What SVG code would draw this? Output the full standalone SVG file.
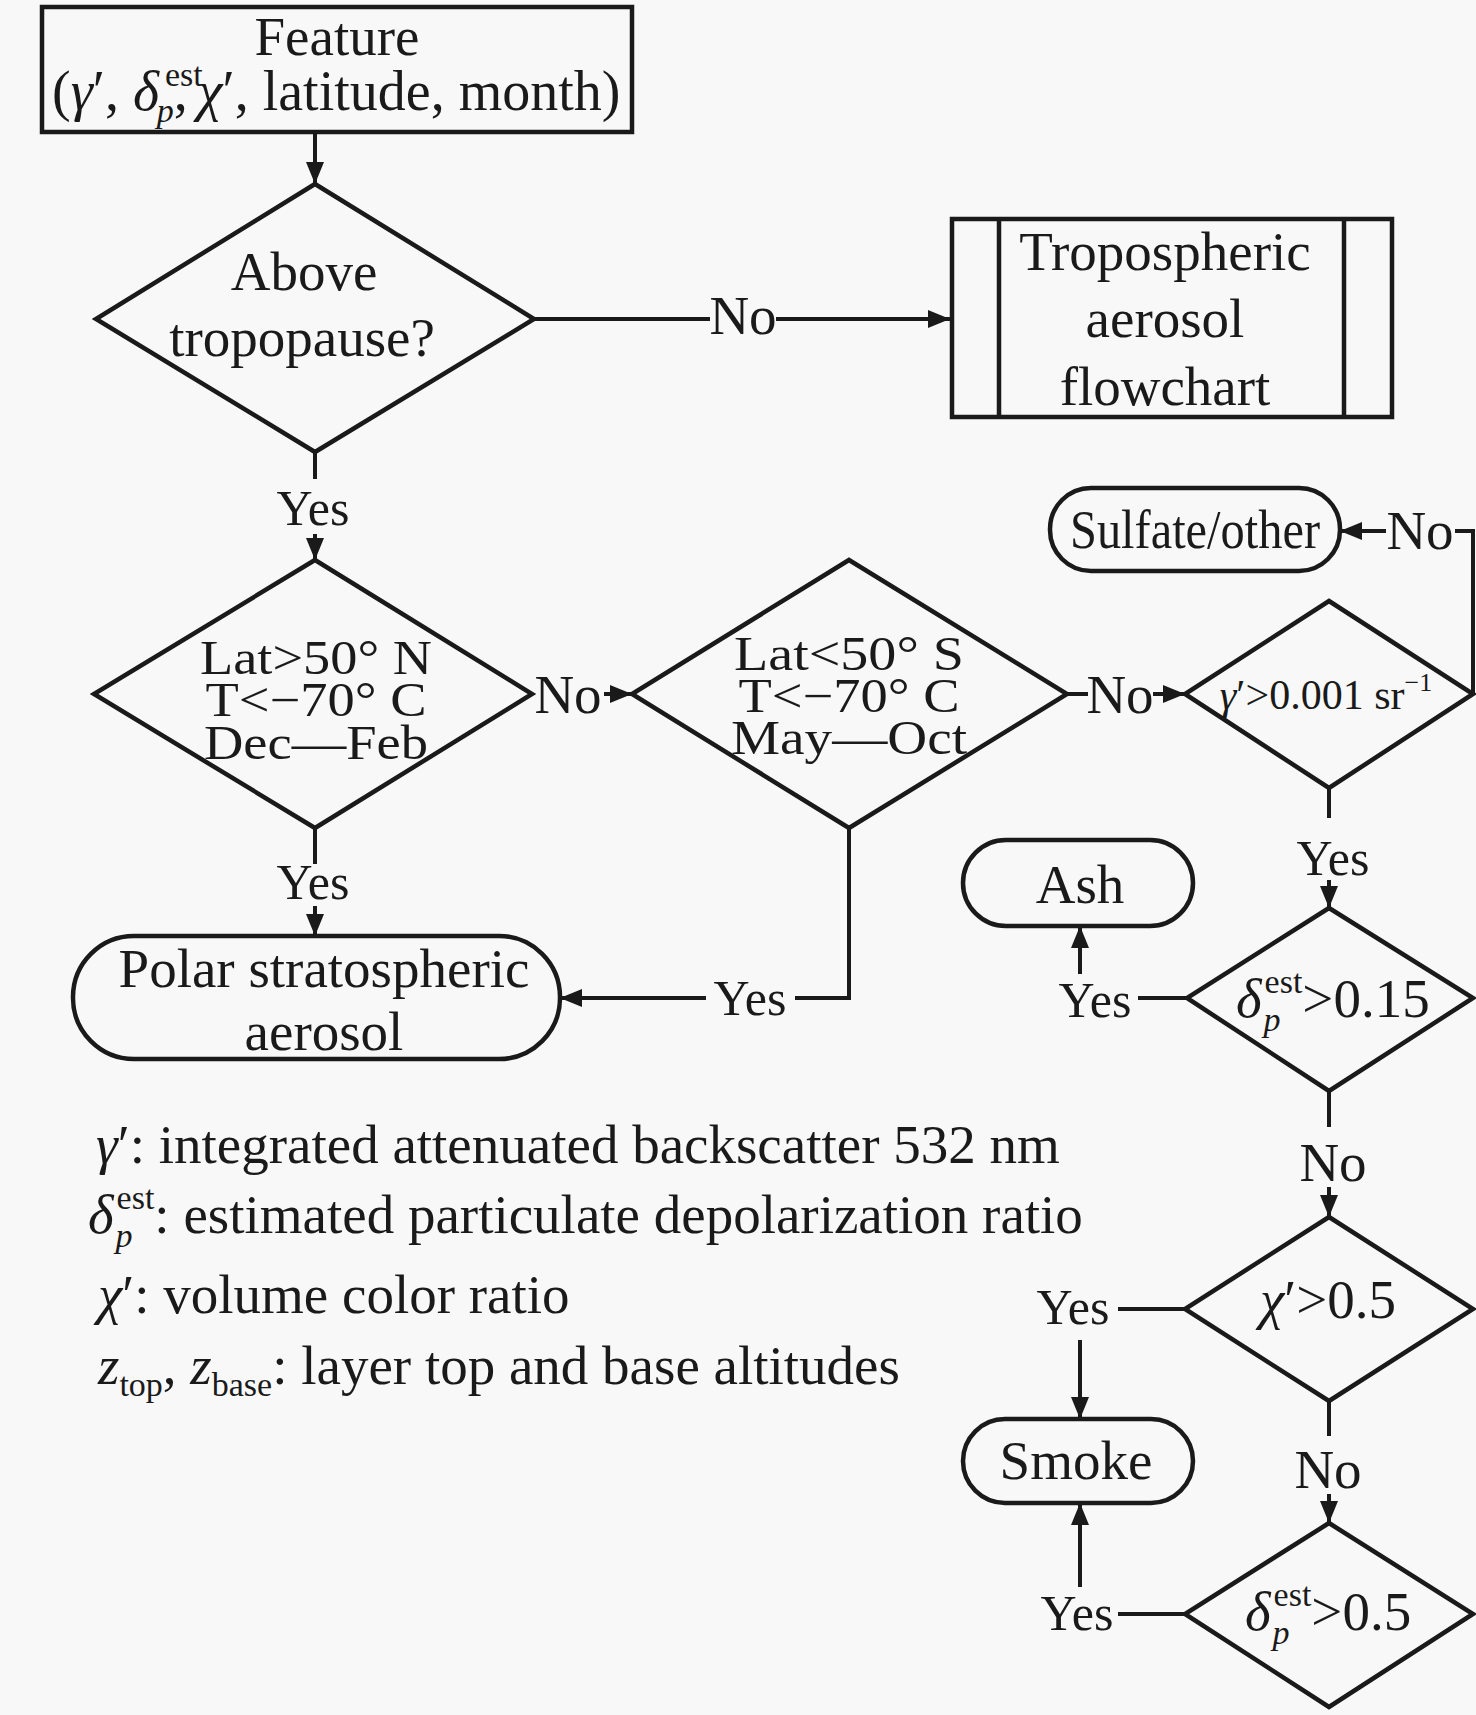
<svg xmlns="http://www.w3.org/2000/svg" width="1476" height="1715" viewBox="0 0 1476 1715">
<defs>
<style>
.t{font-family:"Liberation Serif","Times New Roman",serif;font-size:55px;fill:#1a1a1a}
.c{text-anchor:middle}
.i{font-style:italic}
.s{font-size:34px}
.y{font-size:50px}
.d{font-size:48px}
.sh{fill:none;stroke:#1a1a1a;stroke-width:4.5;stroke-linejoin:miter}
.ln{fill:none;stroke:#1a1a1a;stroke-width:4}
</style>
<marker id="ah" markerUnits="userSpaceOnUse" markerWidth="22" markerHeight="18" viewBox="0 0 22 18" refX="22" refY="9" orient="auto">
<path d="M0,0 L22,9 L0,18 z" fill="#1a1a1a"/>
</marker>
</defs>
<rect width="1476" height="1715" fill="#f8f8f8"/>

<g id="connectors">
<line class="ln" x1="315" y1="132" x2="315" y2="184" marker-end="url(#ah)"/>
<line class="ln" x1="534" y1="319" x2="710" y2="319"/>
<line class="ln" x1="776" y1="319" x2="950" y2="319" marker-end="url(#ah)"/>
<line class="ln" x1="315" y1="452" x2="315" y2="479"/>
<line class="ln" x1="315" y1="534" x2="315" y2="560" marker-end="url(#ah)"/>
<line class="ln" x1="604" y1="694" x2="632" y2="694" marker-end="url(#ah)"/>
<line class="ln" x1="1067" y1="694" x2="1088" y2="694"/>
<line class="ln" x1="1153" y1="694" x2="1185" y2="694" marker-end="url(#ah)"/>
<polyline class="ln" points="1473,694 1473,531 1455,531"/>
<line class="ln" x1="1386" y1="531" x2="1340" y2="531" marker-end="url(#ah)"/>
<line class="ln" x1="315" y1="828" x2="315" y2="864"/>
<line class="ln" x1="315" y1="906" x2="315" y2="936" marker-end="url(#ah)"/>
<polyline class="ln" points="849,828 849,998 795,998"/>
<line class="ln" x1="706" y1="998" x2="560" y2="998" marker-end="url(#ah)"/>
<line class="ln" x1="1329" y1="788" x2="1329" y2="818"/>
<line class="ln" x1="1329" y1="880" x2="1329" y2="908" marker-end="url(#ah)"/>
<line class="ln" x1="1187" y1="998" x2="1138" y2="998"/>
<line class="ln" x1="1080" y1="974" x2="1080" y2="926" marker-end="url(#ah)"/>
<line class="ln" x1="1329" y1="1091" x2="1329" y2="1127"/>
<line class="ln" x1="1329" y1="1187" x2="1329" y2="1217" marker-end="url(#ah)"/>
<line class="ln" x1="1185" y1="1309" x2="1118" y2="1309"/>
<line class="ln" x1="1080" y1="1340" x2="1080" y2="1419" marker-end="url(#ah)"/>
<line class="ln" x1="1329" y1="1401" x2="1329" y2="1436"/>
<line class="ln" x1="1329" y1="1494" x2="1329" y2="1523" marker-end="url(#ah)"/>
<line class="ln" x1="1185" y1="1614" x2="1118" y2="1614"/>
<line class="ln" x1="1080" y1="1587" x2="1080" y2="1503" marker-end="url(#ah)"/>
<text class="t c" x="743" y="334">No</text>
<text class="t c y" x="313" y="525">Yes</text>
<text class="t c" x="568" y="713">No</text>
<text class="t c" x="1120" y="713">No</text>
<text class="t c" x="1420" y="549">No</text>
<text class="t c y" x="313" y="899">Yes</text>
<text class="t c y" x="750" y="1015">Yes</text>
<text class="t c y" x="1333" y="875">Yes</text>
<text class="t c y" x="1095" y="1017">Yes</text>
<text class="t c" x="1333" y="1181">No</text>
<text class="t c y" x="1073" y="1324">Yes</text>
<text class="t c" x="1328" y="1488">No</text>
<text class="t c y" x="1077" y="1630">Yes</text>
</g>

<g id="feature">
<rect class="sh" x="42" y="7" width="590" height="125"/>
<text class="t c" x="337" y="55">Feature</text>
<text class="t" x="52" y="110" style="font-size:56px">(<tspan class="i">γ</tspan>′, <tspan class="i">δ</tspan><tspan class="s" dx="6" dy="-24">est</tspan><tspan class="s i" dx="-46" dy="36">p</tspan><tspan dy="-12">,</tspan><tspan class="i" dx="10">χ</tspan>′, latitude, month)</text>
</g>

<g id="above-tropopause">
<polygon class="sh" points="315,184 534,319 315,452 96,319"/>
<text class="t c" x="304" y="290">Above</text>
<text class="t c" x="302" y="356">tropopause?</text>
</g>

<g id="tropospheric">
<rect class="sh" x="952" y="219" width="440" height="198"/>
<line class="sh" x1="999" y1="219" x2="999" y2="417"/>
<line class="sh" x1="1344" y1="219" x2="1344" y2="417"/>
<text class="t c" x="1165" y="270">Tropospheric</text>
<text class="t c" x="1165" y="337">aerosol</text>
<text class="t c" x="1165" y="405">flowchart</text>
</g>

<g id="north">
<polygon class="sh" points="315,560 532,694 315,828 94,694"/>
<text class="t c d" x="316" y="674" textLength="232" lengthAdjust="spacingAndGlyphs">Lat&gt;50° N</text>
<text class="t c d" x="316" y="716" textLength="221" lengthAdjust="spacingAndGlyphs">T&lt;−70° C</text>
<text class="t c d" x="316" y="759" textLength="224" lengthAdjust="spacingAndGlyphs">Dec—Feb</text>
</g>

<g id="south">
<polygon class="sh" points="849,560 1067,694 849,828 632,694"/>
<text class="t c d" x="849" y="670" textLength="230" lengthAdjust="spacingAndGlyphs">Lat&lt;50° S</text>
<text class="t c d" x="849" y="712" textLength="221" lengthAdjust="spacingAndGlyphs">T&lt;−70° C</text>
<text class="t c d" x="849" y="754" textLength="236" lengthAdjust="spacingAndGlyphs">May—Oct</text>
</g>

<g id="gamma">
<polygon class="sh" points="1329,601 1473,694 1329,788 1185,694"/>
<text class="t c" x="1326" y="709" style="font-size:42px"><tspan class="i">γ</tspan>′&gt;0.001 sr<tspan style="font-size:26px" dy="-18">−1</tspan></text>
</g>

<g id="sulfate">
<rect class="sh" x="1050" y="488" width="290" height="83" rx="41"/>
<text class="t c" x="1195" y="548" textLength="250" lengthAdjust="spacingAndGlyphs">Sulfate/other</text>
</g>

<g id="ash">
<rect class="sh" x="963" y="840" width="230" height="86" rx="43"/>
<text class="t c" x="1080" y="903">Ash</text>
</g>

<g id="depol015">
<polygon class="sh" points="1329,908 1473,998 1329,1091 1187,998"/>
<text class="t" x="1236" y="1017"><tspan class="i">δ</tspan><tspan class="s i" dx="2" dy="14">p</tspan><tspan class="s" dx="-16" dy="-38">est</tspan><tspan dy="24">&gt;0.15</tspan></text>
</g>

<g id="chi">
<polygon class="sh" points="1329,1217 1473,1309 1329,1401 1185,1309"/>
<text class="t c" x="1328" y="1318"><tspan class="i">χ</tspan>′&gt;0.5</text>
</g>

<g id="smoke">
<rect class="sh" x="963" y="1419" width="230" height="84" rx="42"/>
<text class="t c" x="1076" y="1479">Smoke</text>
</g>

<g id="depol05">
<polygon class="sh" points="1329,1523 1473,1614 1329,1707 1185,1614"/>
<text class="t" x="1245" y="1630"><tspan class="i">δ</tspan><tspan class="s i" dx="2" dy="14">p</tspan><tspan class="s" dx="-16" dy="-38">est</tspan><tspan dy="24">&gt;0.5</tspan></text>
</g>

<g id="polar">
<rect class="sh" x="73" y="936" width="487" height="123" rx="61"/>
<text class="t c" x="324" y="987">Polar stratospheric</text>
<text class="t c" x="324" y="1050">aerosol</text>
</g>

<g id="legend">
<text class="t" x="96" y="1163"><tspan class="i">γ</tspan>′: integrated attenuated backscatter 532 nm</text>
<text class="t" x="88" y="1233"><tspan class="i">δ</tspan><tspan class="s i" dx="2" dy="14">p</tspan><tspan class="s" dx="-16" dy="-38">est</tspan><tspan dy="24">: estimated particulate depolarization ratio</tspan></text>
<text class="t" x="98" y="1313"><tspan class="i">χ</tspan>′: volume color ratio</text>
<text class="t" x="98" y="1384"><tspan class="i">z</tspan><tspan class="s" dy="12">top</tspan><tspan dy="-12">, </tspan><tspan class="i">z</tspan><tspan class="s" dy="12">base</tspan><tspan dy="-12">: layer top and base altitudes</tspan></text>
</g>
</svg>
